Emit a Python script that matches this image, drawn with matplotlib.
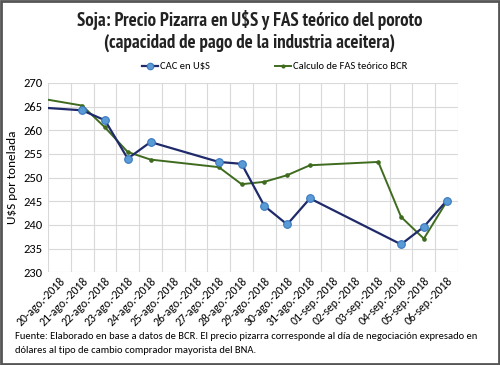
import numpy as np
import matplotlib.pyplot as plt
from matplotlib.patches import Rectangle

# days counted from 20-ago-2018 (17-ago is the previous trading day, clipped by the axis)
fechas = ['20-ago.-2018', '21-ago.-2018', '22-ago.-2018', '23-ago.-2018', '24-ago.-2018',
          '25-ago.-2018', '26-ago.-2018', '27-ago.-2018', '28-ago.-2018', '29-ago.-2018',
          '30-ago.-2018', '31-ago.-2018', '01-sep.-2018', '02-sep.-2018', '03-sep.-2018',
          '04-sep.-2018', '05-sep.-2018', '06-sep.-2018']

cac_dias = [-3, 1, 2, 3, 4, 7, 8, 9, 10, 11, 15, 16, 17]
cac_val = [265.5, 264.2, 262.1, 254.0, 257.5, 253.3, 252.9, 244.0, 240.1, 245.6, 235.9, 239.6, 245.1]

fas_dias = [-3, 1, 2, 3, 4, 7, 8, 9, 10, 11, 14, 15, 16, 17]
fas_val = [268.5, 265.2, 260.6, 255.4, 253.8, 252.2, 248.6, 249.1, 250.5, 252.6, 253.3, 241.7, 237.1, 244.9]

plt.rcParams['font.family'] = ['Carlito', 'DejaVu Sans']
titulo_font = ['PT Sans Narrow', 'Carlito', 'DejaVu Sans']

fig = plt.figure(figsize=(5, 3.65), dpi=100)
ax = fig.add_axes([0.096, 0.254, 0.82, 0.519])

ax.plot(cac_dias, cac_val, color='#1F2A6B', lw=1.6, marker='o', ms=5.5,
        mfc='#5B9BD5', mec='#3A78C0', mew=0.8, label='CAC en U$S', zorder=3)
ax.plot(fas_dias, fas_val, color='#3F6B1F', lw=1.4, marker='o', ms=2.3,
        mfc='#3F6B1F', mec='#3F6B1F', label='Calculo de FAS teórico BCR', zorder=2)

ax.set_xlim(-0.5, len(fechas) - 0.5)
ax.set_ylim(230, 270)
ax.set_yticks(np.arange(230, 271, 5))
ax.set_xticks(np.arange(len(fechas)))
ax.set_xticklabels(fechas, rotation=45, ha='right', rotation_mode='anchor', fontsize=8.5)
ax.set_xticks(np.arange(len(fechas) + 1) - 0.5, minor=True)
ax.tick_params(axis='x', which='both', length=0, pad=2)
ax.tick_params(axis='y', length=0, labelsize=9, pad=4)
ax.grid(True, axis='y', which='major', color='#D9D9D9', lw=0.8)
ax.grid(True, axis='x', which='minor', color='#D9D9D9', lw=0.8)
ax.grid(False, axis='x', which='major')
ax.set_axisbelow(True)
for s in ax.spines.values():
    s.set_visible(False)

ax.set_ylabel('U$S por tonelada', fontsize=9.5, labelpad=4)

fig.text(0.5, 0.945, 'Soja: Precio Pizarra en U$S y FAS teórico del poroto',
         ha='center', va='center', fontsize=13.5, fontweight='bold', color='#222222',
         family=titulo_font)
fig.text(0.5, 0.882, '(capacidad de pago de la industria aceitera)',
         ha='center', va='center', fontsize=13.5, fontweight='bold', color='#222222',
         family=titulo_font)

leg = fig.legend(loc='center', bbox_to_anchor=(0.55, 0.817), ncol=2, frameon=False,
                 fontsize=7.6, handlelength=1.5, handletextpad=0.2, columnspacing=6.2,
                 markerscale=0.85)

fig.text(0.03, 0.077, 'Fuente: Elaborado en base a datos de BCR. El precio pizarra corresponde al día de negociación expresado en',
         ha='left', va='center', fontsize=7.6)
fig.text(0.03, 0.04, 'dólares al tipo de cambio comprador mayorista del BNA.',
         ha='left', va='center', fontsize=7.6)

fig.patches.append(Rectangle((0.002, 0.003), 0.996, 0.994, transform=fig.transFigure,
                             fill=False, ec='#555555', lw=2))

fig.savefig('out.png', dpi=100)
